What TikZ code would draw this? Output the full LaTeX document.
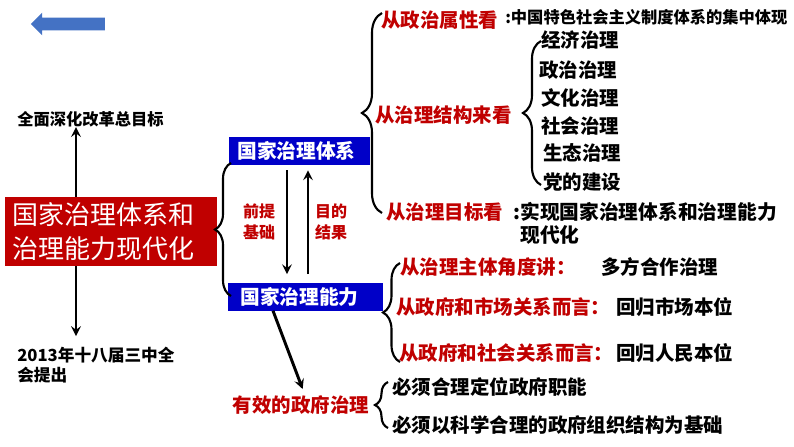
\documentclass[tikz,border=0pt]{standalone}
\usepackage{fontspec}
\setmainfont{Noto Sans CJK SC}
\usepackage{tikz}
\usetikzlibrary{positioning, arrows, shapes.arrows, decorations.pathreplacing}
\definecolor{deepred}{RGB}{192,0,0}
\definecolor{boxblue}{RGB}{0,0,200}
\definecolor{backblue}{RGB}{68,114,196}
\tikzstyle{redtext} = [anchor=west, inner sep=0pt, text=deepred, font=\bfseries\fontsize{14.6}{17}\selectfont]
\tikzstyle{blacktext} = [anchor=west, inner sep=0pt, text=black, font=\bfseries\fontsize{14.6}{17}\selectfont]
\tikzstyle{smalltext} = [anchor=west, inner sep=0pt, text=black, font=\bfseries\fontsize{12.2}{15}\selectfont]
\tikzstyle{bluebox} = [rectangle, anchor=west, fill=boxblue, text=white, minimum height=21pt, inner ysep=0pt, align=left, font=\bfseries\fontsize{14.8}{17}\selectfont]
\tikzstyle{mainbox} = [rectangle, anchor=west, fill=deepred, text=white, minimum height=52pt, text width=148pt, inner xsep=5.25pt, align=left, font=\fontsize{19.5}{25.5}\selectfont]
\tikzstyle{sidelabel} = [inner sep=0pt, text=deepred, align=center, font=\bfseries\fontsize{12}{15.75}\selectfont]
\tikzstyle{arrow} = [line width=2.2pt,->,>=stealth]
\tikzstyle{curly} = [decorate, line width=1.6pt]

\begin{document}
\begin{tikzpicture}[x=0.75pt, y=-0.75pt]
  \useasboundingbox (0,0) rectangle (794,447);
  \node (back) [single arrow, shape border rotate=180, fill=backblue, inner sep=0pt, minimum height=55.5pt, single arrow head extend=3.75pt] at (71,24) {\rule{0pt}{9pt}};

  % left part
  \node (main) [mainbox] at (5,231.5) {国家治理体系和\\治理能力现代化};
  \node (goal) [smalltext] at (17,119) {全面深化改革总目标};
  \node (meeting) [smalltext, align=left, font=\bfseries\fontsize{12.5}{15}\selectfont] at (17,365) {2013年十八届三中全\\会提出};
  \draw [arrow] ([xshift=53.25pt]main.north west) -- ([xshift=53.25pt]main.north west |- goal.south);
  \draw [arrow, shorten >=8pt] ([xshift=53.25pt]main.south west) -- ([xshift=53.25pt]main.south west |- meeting.north);

  % system and capacity
  \node (tixi) [bluebox, text width=93.75pt, inner xsep=6pt] at (229,151) {国家治理体系};
  \node (nengli) [bluebox, text width=98.25pt, inner xsep=9pt] at (228,296.5) {国家治理能力};
  \node (premise) [sidelabel] at (259,222) {前提\\基础};
  \node (purpose) [sidelabel] at (331,222) {目的\\结果};
  \draw [arrow, shorten <=3.75pt, shorten >=6pt] ([xshift=43.5pt]tixi.south west) -- ([xshift=43.5pt]tixi.south west |- nengli.north);
  \draw [arrow, shorten <=6pt, shorten >=3.75pt] ([xshift=59.25pt]tixi.south west |- nengli.north) -- ([xshift=59.25pt]tixi.south west);
  \coordinate (l1top) at (231,163);
  \coordinate (l1bot) at (231,296);
  \draw [curly, decoration={brace, amplitude=12pt}] (l1bot) -- (l1top);

  % system branches
  \node (shuxing) [redtext] at (381,20) {从政治属性看};
  \node (shuxingans) [smalltext] at (505,17) {:中国特色社会主义制度体系的集中体现};
  \node (jiegou) [redtext] at (375,115) {从治理结构来看};
  \node (mubiao) [redtext] at (386,212) {从治理目标看};
  \node (mubiaoans) [blacktext, align=left, font=\bfseries\fontsize{14.8}{17.25}\selectfont] at (520,223.5) {\llap{:}实现国家治理体系和治理能力\\现代化};
  \coordinate (b1top) at (382,13);
  \coordinate (b1bot) at (382,213);
  \draw [curly, decoration={brace, amplitude=15pt}] (b1bot) -- (b1top);

  \node (jingji) [blacktext] at (541,40) {经济治理};
  \node (zhengzhi) [blacktext] at (539,70) {政治治理};
  \node (wenhua) [blacktext] at (541,98) {文化治理};
  \node (shehui) [blacktext] at (541,126) {社会治理};
  \node (shengtai) [blacktext] at (543,153) {生态治理};
  \node (dangjian) [blacktext] at (543,182) {党的建设};
  \coordinate (b2top) at (541,41);
  \coordinate (b2bot) at (541,185);
  \draw [curly, decoration={brace, amplitude=13.5pt}] (b2bot) -- (b2top);

  % capacity branches
  \node (zhuti) [redtext] at (400,267) {从治理主体角度讲：};
  \node (zhutians) [blacktext] at (601,267) {多方合作治理};
  \node (shichang) [redtext] at (396,307) {从政府和市场关系而言：};
  \node (shichangans) [blacktext] at (616,307) {回归市场本位};
  \node (renmin) [redtext] at (399,353) {从政府和社会关系而言：};
  \node (renminans) [blacktext] at (616,353) {回归人民本位};
  \coordinate (b3top) at (400,263);
  \coordinate (b3bot) at (400,362);
  \draw [curly, decoration={brace, amplitude=12.75pt}] (b3bot) -- (b3top);

  % government
  \node (zhili) [redtext, anchor=center] at (301,405) {有效的政府治理};
  \draw [arrow, shorten >=5pt] ([xshift=33.75pt]nengli.south west) -- ([xshift=3pt]zhili.north);
  \node (zhineng) [blacktext] at (392,387) {必须合理定位政府职能};
  \node (zuzhi) [blacktext] at (392,425) {必须以科学合理的政府组织结构为基础};
  \coordinate (b4top) at (388,382);
  \coordinate (b4bot) at (388,428);
  \draw [curly, decoration={brace, amplitude=9.75pt}] (b4bot) -- (b4top);
\end{tikzpicture}
\end{document}
